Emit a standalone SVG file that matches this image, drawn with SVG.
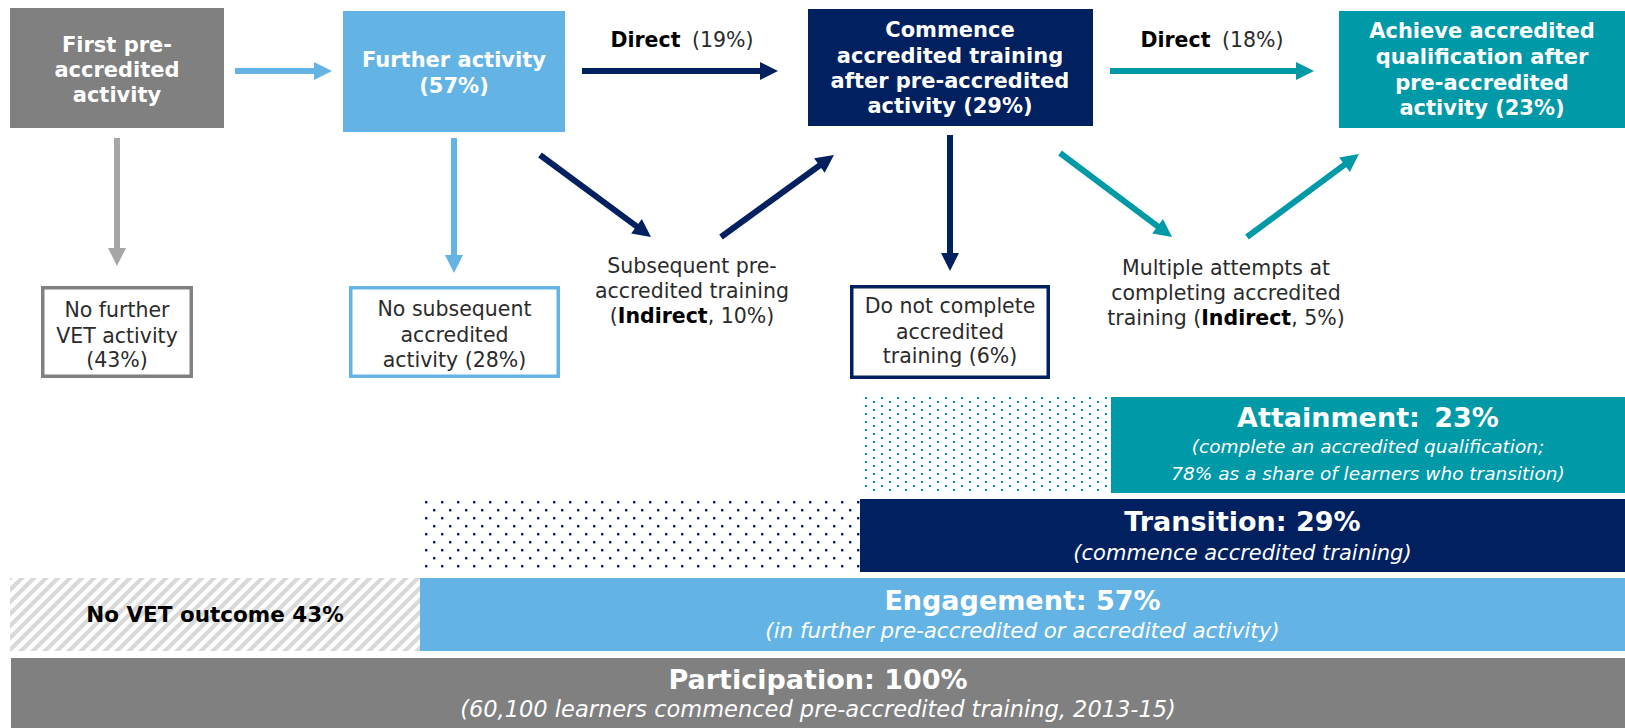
<svg xmlns="http://www.w3.org/2000/svg" width="1625" height="728" viewBox="0 0 1625 728">
<style>
text{font-family:"DejaVu Sans",Verdana,sans-serif}
.bw{font-weight:bold;font-size:21px;fill:#fff;text-anchor:middle}
.lb{font-size:20.5px;fill:#2b2b2b;text-anchor:middle}
.b{font-weight:bold;fill:#000}
.bt{font-weight:bold;font-size:27px;fill:#fff;text-anchor:middle}
.it{font-style:italic;fill:#fff;text-anchor:middle}
.c{fill:none;stroke-width:6}
.ob{fill:#fff;stroke-width:3.5}
</style>
<defs>
<marker id="mLB" markerUnits="userSpaceOnUse" markerWidth="20" markerHeight="20" refX="0" refY="0" orient="auto" overflow="visible"><path d="M-1,-9 L17,0 L-1,9 z" fill="#63b4e5"/></marker>
<marker id="mGR" markerUnits="userSpaceOnUse" markerWidth="20" markerHeight="20" refX="0" refY="0" orient="auto" overflow="visible"><path d="M-1,-9 L17,0 L-1,9 z" fill="#a6a6a6"/></marker>
<marker id="mNV" markerUnits="userSpaceOnUse" markerWidth="20" markerHeight="20" refX="0" refY="0" orient="auto" overflow="visible"><path d="M-1,-9 L17,0 L-1,9 z" fill="#002060"/></marker>
<marker id="mTL" markerUnits="userSpaceOnUse" markerWidth="20" markerHeight="20" refX="0" refY="0" orient="auto" overflow="visible"><path d="M-1,-9 L17,0 L-1,9 z" fill="#0099a8"/></marker>
<pattern id="pTeal" patternUnits="userSpaceOnUse" x="865" y="397" width="16" height="8"><rect width="2" height="2" fill="#0099a8"/><rect x="8" y="4" width="2" height="2" fill="#0099a8"/></pattern>
<pattern id="pNavy" patternUnits="userSpaceOnUse" x="425" y="501" width="16" height="16"><rect width="2.4" height="2.4" fill="#002060"/><rect x="8" y="8" width="2.4" height="2.4" fill="#002060"/></pattern>
<pattern id="pHatch" patternUnits="userSpaceOnUse" width="12" height="12"><rect width="12" height="12" fill="#fff"/><path d="M-3,3 L3,-3 M0,12 L12,0 M9,15 L15,9" stroke="#d9d9d9" stroke-width="4.2"/></pattern>
</defs>
<rect width="1625" height="728" fill="#fff"/>

<g id="n-first">
<rect x="10" y="8" width="214" height="120" fill="#808080"/>
<text class="bw" x="117" y="52">First pre-</text>
<text class="bw" x="117" y="77">accredited</text>
<text class="bw" x="117" y="102">activity</text>
</g>
<g id="n-further">
<rect x="343" y="11" width="222" height="121" fill="#63b4e5"/>
<text class="bw" x="454" y="67">Further activity</text>
<text class="bw" x="454" y="93">(57%)</text>
</g>
<g id="n-commence">
<rect x="808" y="9" width="285" height="117" fill="#002060"/>
<text class="bw" x="950" y="37">Commence</text>
<text class="bw" x="950" y="63">accredited training</text>
<text class="bw" x="950" y="88">after pre-accredited</text>
<text class="bw" x="950" y="113">activity (29%)</text>
</g>
<g id="n-achieve">
<rect x="1339" y="11" width="286" height="117" fill="#0099a8"/>
<text class="bw" x="1482" y="38">Achieve accredited</text>
<text class="bw" x="1482" y="64">qualification after</text>
<text class="bw" x="1482" y="90">pre-accredited</text>
<text class="bw" x="1482" y="115">activity (23%)</text>
</g>
<g id="n-nofurther">
<rect class="ob" x="42.75" y="287.75" width="148.5" height="88.5" stroke="#808080"/>
<text class="lb" x="117" y="317">No further</text>
<text class="lb" x="117" y="343">VET activity</text>
<text class="lb" x="117" y="367">(43%)</text>
</g>
<g id="n-nosubsequent">
<rect class="ob" x="350.75" y="287.75" width="207.5" height="88.5" stroke="#63b4e5"/>
<text class="lb" x="454.5" y="316">No subsequent</text>
<text class="lb" x="454.5" y="342">accredited</text>
<text class="lb" x="454.5" y="367">activity (28%)</text>
</g>
<g id="n-donotcomplete">
<rect class="ob" x="851.75" y="286.75" width="196.5" height="90.5" stroke="#002060"/>
<text class="lb" x="950" y="313">Do not complete</text>
<text class="lb" x="950" y="339">accredited</text>
<text class="lb" x="950" y="363">training (6%)</text>
</g>
<g id="n-subsequent">
<text class="lb" x="692" y="273">Subsequent pre-</text>
<text class="lb" x="692" y="298">accredited training</text>
<text class="lb" x="692" y="323">(<tspan class="b">Indirect</tspan>, 10%)</text>
</g>
<g id="n-multiple">
<text class="lb" x="1226" y="275">Multiple attempts at</text>
<text class="lb" x="1226" y="300">completing accredited</text>
<text class="lb" x="1226" y="325">training (<tspan class="b">Indirect</tspan>, 5%)</text>
</g>

<g id="connectors">
<line class="c" x1="235" y1="71" x2="315" y2="71" stroke="#63b4e5" marker-end="url(#mLB)"/>
<line class="c" x1="117" y1="138" x2="117" y2="249" stroke="#a6a6a6" marker-end="url(#mGR)"/>
<line class="c" x1="454" y1="138" x2="454" y2="256" stroke="#63b4e5" marker-end="url(#mLB)"/>
<line class="c" x1="582" y1="71" x2="761" y2="71" stroke="#002060" marker-end="url(#mNV)"/>
<line class="c" x1="540" y1="155" x2="637.3" y2="226.9" stroke="#002060" marker-end="url(#mNV)"/>
<line class="c" x1="721" y1="237" x2="820.2" y2="165" stroke="#002060" marker-end="url(#mNV)"/>
<line class="c" x1="950" y1="135" x2="950" y2="254" stroke="#002060" marker-end="url(#mNV)"/>
<line class="c" x1="1110" y1="71" x2="1297" y2="71" stroke="#0099a8" marker-end="url(#mTL)"/>
<line class="c" x1="1060" y1="153" x2="1158.4" y2="226.8" stroke="#0099a8" marker-end="url(#mTL)"/>
<line class="c" x1="1247" y1="237" x2="1345.3" y2="164.1" stroke="#0099a8" marker-end="url(#mTL)"/>
<text class="lb" x="682" y="47"><tspan class="b">Direct</tspan><tspan dx="5"> (19%)</tspan></text>
<text class="lb" x="1212" y="47"><tspan class="b">Direct</tspan><tspan dx="5"> (18%)</tspan></text>
</g>

<g id="band-attainment">
<rect x="865" y="397" width="246" height="96" fill="url(#pTeal)"/>
<rect x="1111" y="397" width="514" height="96" fill="#0099a8"/>
<text class="bt" x="1368" y="427">Attainment: <tspan dx="5">23%</tspan></text>
<text class="it" x="1368" y="453" font-size="18.5">(complete an accredited qualification;</text>
<text class="it" x="1368" y="480" font-size="18.5">78% as a share of learners who transition)</text>
</g>
<g id="band-transition">
<rect x="425" y="501" width="435" height="71" fill="url(#pNavy)"/>
<rect x="860" y="499" width="765" height="73" fill="#002060"/>
<text class="bt" x="1242.5" y="531">Transition: 29%</text>
<text class="it" x="1242.5" y="560" font-size="21">(commence accredited training)</text>
</g>
<g id="band-engagement">
<rect x="10" y="578" width="410" height="73" fill="url(#pHatch)"/>
<text x="215" y="622" font-size="21.5" font-weight="bold" fill="#000" text-anchor="middle">No VET outcome 43%</text>
<rect x="420" y="578" width="1205" height="73" fill="#63b4e5"/>
<text class="bt" x="1022.5" y="610">Engagement: 57%</text>
<text class="it" x="1022.5" y="638" font-size="21.4">(in further pre-accredited or accredited activity)</text>
</g>
<g id="band-participation">
<rect x="11" y="658" width="1614" height="70" fill="#808080"/>
<text class="bt" x="818" y="689">Participation: 100%</text>
<text class="it" x="818" y="717" font-size="22.5">(60,100 learners commenced pre-accredited training, 2013-15)</text>
</g>
</svg>
